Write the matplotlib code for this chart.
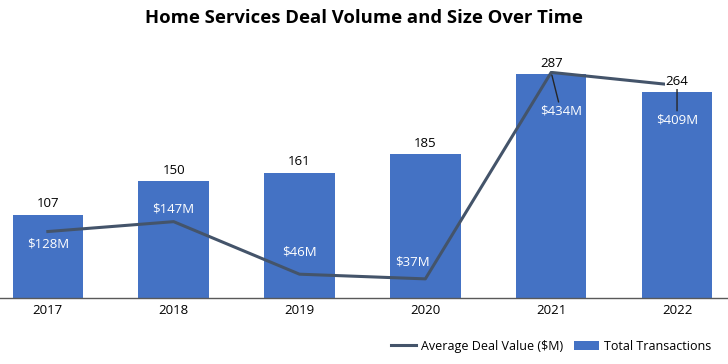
import matplotlib
matplotlib.use("Agg")
import matplotlib.pyplot as plt

years = ["2017", "2018", "2019", "2020", "2021", "2022"]
transactions = [107, 150, 161, 185, 287, 264]
avg_deal_value = [128, 147, 46, 37, 434, 409]
deal_labels = ["$128M", "$147M", "$46M", "$37M", "$434M", "$409M"]

# offsets (points) of the white $ labels from each line point
label_offsets = [(0, -9), (0, 9), (0, 16), (-9, 12), (7, -28), (0, -25)]
leader = [False, False, False, False, True, True]

bar_color = "#4472C4"
line_color = "#44546A"

plt.rcParams["font.family"] = ["Open Sans", "DejaVu Sans"]

fig = plt.figure(figsize=(7.28, 3.64), dpi=100)
ax = fig.add_axes([0.0, 0.181, 1.0, 0.643])
x = list(range(len(years)))

bars = ax.bar(x, transactions, width=0.56, color=bar_color, zorder=2,
              label="Total Transactions")

ax.set_xlim(-0.38, 5.405)
ax.set_ylim(0, 300)
ax.set_xticks(x)
ax.set_xticklabels(years, fontsize=9.5)
ax.tick_params(axis="x", length=0, pad=4)
ax.set_yticks([])
for s in ["top", "left", "right"]:
    ax.spines[s].set_visible(False)
ax.spines["bottom"].set_color("#595959")
ax.spines["bottom"].set_linewidth(1.0)

ax2 = ax.twinx()
ax2.set_ylim(0, 450)
ax2.set_yticks([])
for s in ["top", "left", "right", "bottom"]:
    ax2.spines[s].set_visible(False)
line, = ax2.plot(x, avg_deal_value, color=line_color, lw=2.2, zorder=3,
                 label="Average Deal Value ($M)")

# bar value labels drawn above the line
for xi, v in zip(x, transactions):
    ax2.annotate(str(v), (xi, v), xycoords=ax.transData, xytext=(0, 3),
                 textcoords="offset points", ha="center", va="bottom",
                 fontsize=9.5, color="black", zorder=7,
                 bbox=dict(boxstyle="square,pad=0.05", fc="white", ec="none"))

for xi, v, lab, off, ld in zip(x, avg_deal_value, deal_labels, label_offsets, leader):
    kw = {}
    if ld:
        kw["arrowprops"] = dict(arrowstyle="-", color="#262626", lw=1,
                                shrinkA=0, shrinkB=2)
    ax2.annotate(lab, (xi, v), xytext=off, textcoords="offset points",
                 ha="center", va="center", fontsize=9.5, color="white", zorder=6, **kw)

fig.suptitle("Home Services Deal Volume and Size Over Time", fontsize=13.3,
             fontweight="bold", y=0.975)

fig.legend(handles=[line, bars], loc="lower right", bbox_to_anchor=(0.993, 0.0),
           ncol=2, frameon=False, fontsize=9, handlelength=2.0, handletextpad=0.4,
           columnspacing=0.9)

fig.savefig("out.png", dpi=100)
